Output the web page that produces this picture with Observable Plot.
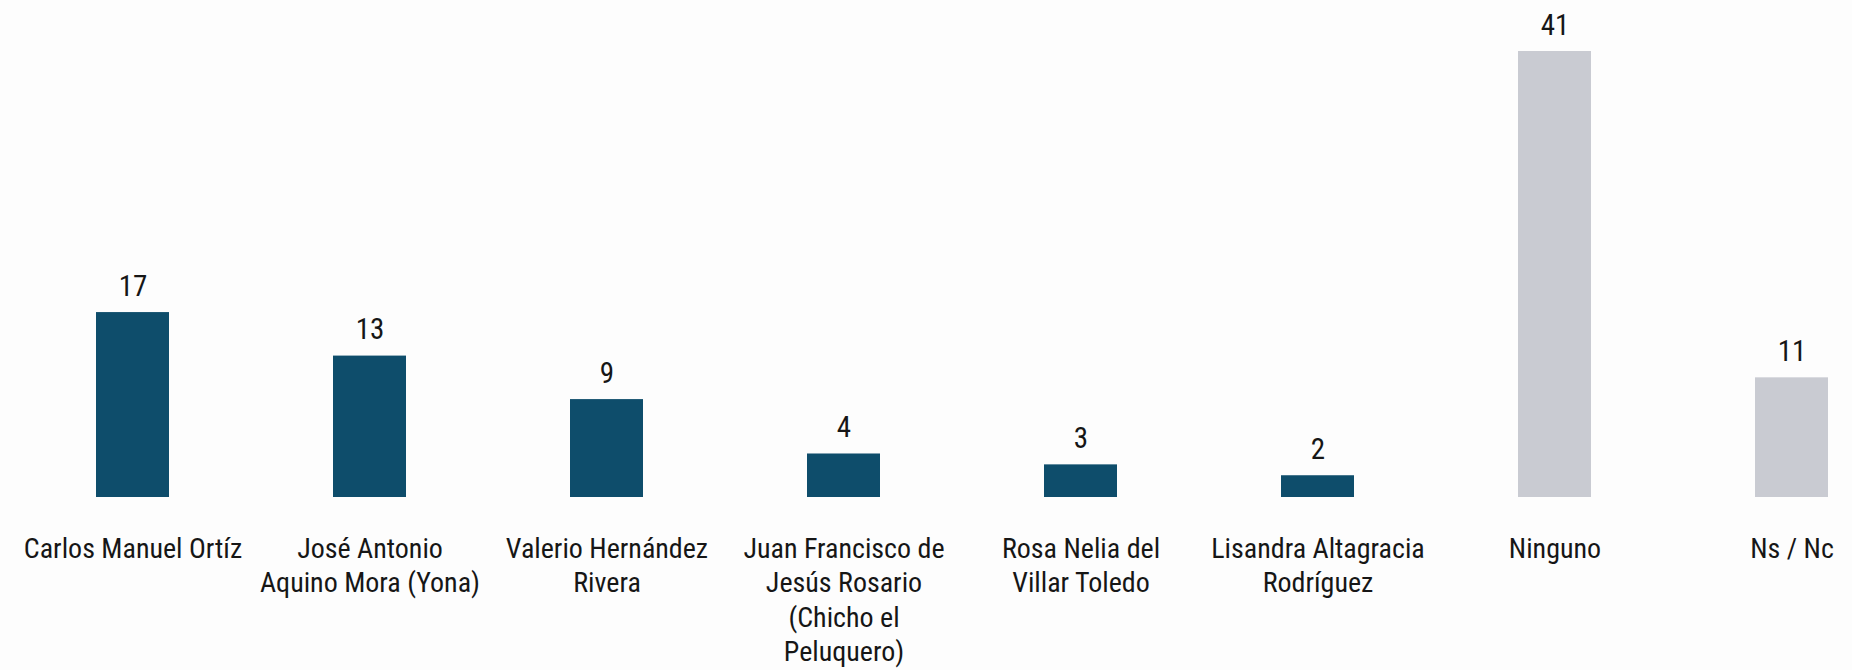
<!DOCTYPE html>
<html><head><meta charset="utf-8">
<script src="https://cdn.jsdelivr.net/npm/d3@7"></script>
<script src="https://cdn.jsdelivr.net/npm/@observablehq/plot@0.6"></script>
<style>
html,body{margin:0;padding:0;background:#fdfdfd;}
</style></head><body><div id="chart"></div>
<script>
const categories = ["Carlos Manuel Ortíz","José Antonio Aquino Mora (Yona)","Valerio Hernández Rivera","Juan Francisco de Jesús Rosario (Chicho el Peluquero)","Rosa Nelia del Villar Toledo","Lisandra Altagracia Rodríguez","Ninguno","Ns / Nc"];
const values = [17, 13, 9, 4, 3, 2, 41, 11];
const tickLabels = ["Carlos Manuel Ortíz","José Antonio\nAquino Mora (Yona)","Valerio Hernández\nRivera","Juan Francisco de\nJesús Rosario\n(Chicho el\nPeluquero)","Rosa Nelia del\nVillar Toledo","Lisandra Altagracia\nRodríguez","Ninguno","Ns / Nc"];
const groups = ["candidato","candidato","candidato","candidato","candidato","candidato","otro","otro"];

const FONT = "'Roboto Condensed','Liberation Sans Narrow','DejaVu Sans Condensed','Arial Narrow',sans-serif";
const data = categories.map((c, i) => ({category: c, value: values[i], label: tickLabels[i], group: groups[i]}));

const chart = Plot.plot({
  width: 1852, height: 670,
  marginTop: 51, marginBottom: 173, marginLeft: 93, marginRight: 20,
  style: {background: "transparent", fontFamily: FONT},
  x: {domain: categories, paddingInner: 0.69, paddingOuter: 0, axis: null},
  y: {domain: [0, 41], axis: null},
  color: {domain: ["candidato", "otro"], range: ["#0e4d6b", "#c9cbd2"]},
  marks: [
    Plot.barY(data, {x: "category", y: "value", fill: "group"}),
    Plot.text(data, {x: "category", y: "value", text: d => String(d.value), dy: -26, fontSize: 29, fill: "#161616"}),
    Plot.text(data, {x: "category", text: "label", frameAnchor: "bottom", lineAnchor: "top", dy: 36, fontSize: 28, lineHeight: 1.23, fill: "#161616"})
  ]
});
document.getElementById("chart").append(chart);
</script></body></html>
